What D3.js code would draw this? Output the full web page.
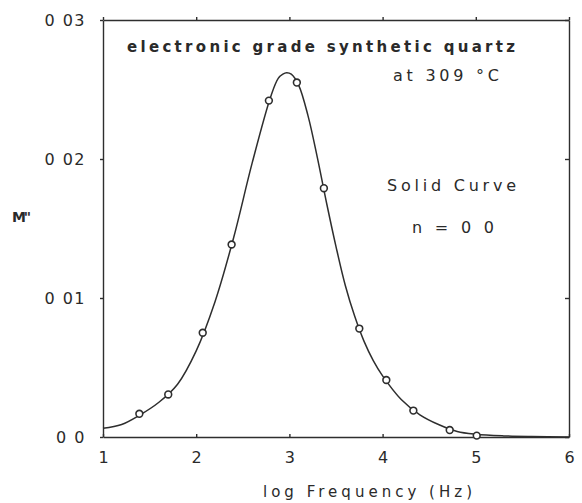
<!DOCTYPE html>
<html>
<head>
<meta charset="utf-8">
<script src="https://cdn.jsdelivr.net/npm/d3@7"></script>
<style>
  body { margin: 0; background: #fff; }
  svg text { font-family: "DejaVu Sans", sans-serif; fill: #2a2a2a; }
</style>
</head>
<body>
<svg id="chart" width="582" height="503"></svg>
<script>
// Fitted M'' curve (solid line), sampled along log frequency
const curveX = [1.0, 1.2, 1.4, 1.6, 1.8, 2.0, 2.2, 2.4, 2.6, 2.8, 2.88, 2.93, 2.97, 3.02, 3.1, 3.2, 3.3, 3.4, 3.5, 3.6, 3.7, 3.8, 3.9, 4.0, 4.2, 4.4, 4.6, 4.8, 5.0, 5.3, 5.6, 6.0];
const curveY = [0.00063, 0.0009, 0.0016, 0.0025, 0.0038, 0.0062, 0.0097, 0.0143, 0.0197, 0.0245, 0.0258, 0.0261, 0.0262, 0.0261, 0.0253, 0.0231, 0.0201, 0.0168, 0.0137, 0.0109, 0.0087, 0.0069, 0.0055, 0.0044, 0.0027, 0.0016, 0.0009, 0.0004, 0.0002, 0.00008, 0.00003, 0.0];

// Measured M'' points (open circles)
const pointX = [1.39, 1.70, 2.07, 2.38, 2.78, 3.08, 3.37, 3.75, 4.04, 4.33, 4.72, 5.01];
const pointY = [0.00167, 0.00306, 0.0075, 0.01385, 0.0242, 0.0255, 0.0179, 0.0078, 0.0041, 0.0019, 0.0005, 0.0001];

// Axis ticks and their printed labels
const xTicks = [1, 2, 3, 4, 5, 6];
const xTickLabels = ["1", "2", "3", "4", "5", "6"];
const yTicks = [0, 0.01, 0.02, 0.03];
const yTickLabels = ["0 0", "0 01", "0 02", "0 03"];

const svg = d3.select("#chart");
const ink = "#2e2e2e";

const plotLeft = 103, plotRight = 569, plotTop = 20, plotBottom = 437;
const x = d3.scaleLinear().domain([1, 6]).range([plotLeft, plotRight]);
const y = d3.scaleLinear().domain([0, 0.03]).range([plotBottom, plotTop]);

function styleAxis(g, spacing) {
  g.selectAll("path.domain").attr("stroke", ink).attr("stroke-width", 1.4);
  g.selectAll(".tick line").attr("stroke", ink).attr("stroke-width", 1.4);
  g.selectAll(".tick text")
    .attr("fill", ink)
    .style("font-family", "'DejaVu Sans', sans-serif")
    .style("font-size", "16px")
    .style("letter-spacing", (spacing || 0) + "px");
}

// Bottom axis with labels
svg.append("g")
  .attr("transform", `translate(0,${plotBottom})`)
  .call(d3.axisBottom(x).tickValues(xTicks)
    .tickFormat((d, i) => xTickLabels[i])
    .tickSizeInner(-3).tickSizeOuter(0).tickPadding(15))
  .call(styleAxis);

// Left axis with labels
svg.append("g")
  .attr("transform", `translate(${plotLeft},0)`)
  .call(d3.axisLeft(y).tickValues(yTicks)
    .tickFormat((d, i) => yTickLabels[i])
    .tickSizeInner(3).tickSizeOuter(0).tickPadding(14))
  .call(g => styleAxis(g, 1.5));

// Top and right frame with ticks, no labels
svg.append("g")
  .attr("transform", `translate(0,${plotTop})`)
  .call(d3.axisTop(x).tickValues(xTicks).tickFormat("")
    .tickSizeInner(3).tickSizeOuter(0))
  .call(styleAxis);

svg.append("g")
  .attr("transform", `translate(${plotRight},0)`)
  .call(d3.axisRight(y).tickValues(yTicks).tickFormat("")
    .tickSizeInner(-4).tickSizeOuter(0))
  .call(styleAxis);

// Solid curve
const line = d3.line()
  .x((d, i) => x(curveX[i]))
  .y((d, i) => y(curveY[i]))
  .curve(d3.curveCatmullRom.alpha(0.5));

svg.append("path")
  .datum(curveX)
  .attr("d", line)
  .attr("fill", "none")
  .attr("stroke", ink)
  .attr("stroke-width", 1.5);

// Data points
svg.append("g")
  .selectAll("circle")
  .data(pointX)
  .join("circle")
  .attr("cx", (d) => x(d))
  .attr("cy", (d, i) => y(pointY[i]))
  .attr("r", 3.4)
  .attr("fill", "#fff")
  .attr("stroke", ink)
  .attr("stroke-width", 1.6);

// Annotations
function label(txt, px, py, len, size, weight) {
  return svg.append("text")
    .attr("x", px).attr("y", py)
    .attr("textLength", len)
    .attr("lengthAdjust", "spacing")
    .style("font-size", size + "px")
    .style("font-weight", weight || "normal")
    .text(txt);
}

label("electronic grade synthetic quartz", 127, 52, 388, 15, "bold");
label("at 309 \u00b0C", 393, 81, 106, 16);
label("Solid Curve", 387, 191, 129, 16);
label("n = 0 0", 412, 233, 82, 16);

// Axis titles
label("M\"", 12, 222, 19, 14, "bold");
label("log Frequency (Hz)", 263, 497, 209, 15);
</script>
</body>
</html>
